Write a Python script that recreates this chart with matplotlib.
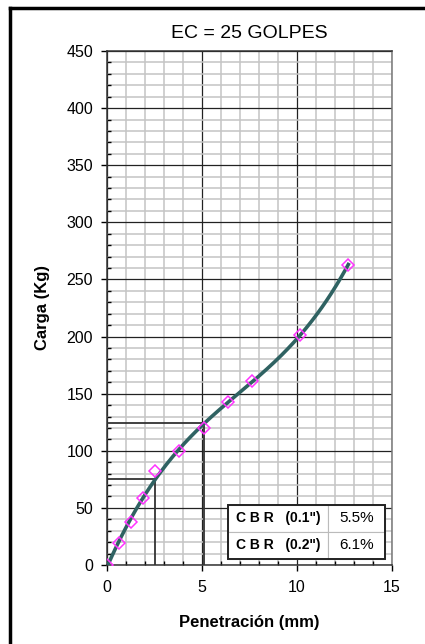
import numpy as np
import matplotlib.pyplot as plt
from matplotlib.lines import Line2D
from matplotlib.patches import Rectangle
from matplotlib.ticker import MultipleLocator

plt.rcParams.update({
    "font.family": ["Liberation Sans", "DejaVu Sans"],
})

# penetration (mm) and load (kg) readings
penetracion = [0.0, 0.64, 1.27, 1.91, 2.54, 3.81, 5.08, 6.35, 7.62, 10.16, 12.70]
carga = [0, 19, 38, 59, 82, 100, 120, 143, 161, 201, 263]

# corrected loads at 0.1" and 0.2"
pen_ref = [2.54, 5.08]
carga_ref = [75, 124]
cbr_labels = ['C B R   (0.1")', 'C B R   (0.2")']
cbr_values = ["5.5%", "6.1%"]

fig = plt.figure(figsize=(4.25, 6.44), dpi=100)
ax = fig.add_axes([107 / 425, 1 - 565 / 644, 285 / 425, 514 / 644])

# sheet border (left and top edges)
fig.add_artist(Line2D([9.5 / 425, 9.5 / 425], [0, 1 - 7.5 / 644],
                      transform=fig.transFigure, color="black", lw=2.5))
fig.add_artist(Line2D([9.5 / 425, 1], [1 - 7.5 / 644, 1 - 7.5 / 644],
                      transform=fig.transFigure, color="black", lw=2.5))

# grid
ax.xaxis.set_major_locator(MultipleLocator(5))
ax.xaxis.set_minor_locator(MultipleLocator(1))
ax.yaxis.set_major_locator(MultipleLocator(50))
ax.yaxis.set_minor_locator(MultipleLocator(10))
ax.grid(which="minor", color="#c4c4c4", lw=1.1)
ax.grid(which="major", color="#222222", lw=0.9)
ax.set_axisbelow(True)

# cubic trend through the readings
coef = np.polyfit(penetracion, carga, 3)
xs = np.linspace(0, max(penetracion), 200)
ax.plot(xs, np.polyval(coef, xs), color="#2f6262", lw=2.6, zorder=3)
ax.plot(penetracion, carga, ls="none", marker="D", ms=6, mfc="none",
        mec="#ff33ff", mew=1.1, zorder=4)

# guide lines at 0.1" and 0.2"
for px, py in zip(pen_ref, carga_ref):
    ax.plot([0, px], [py, py], color="#333333", lw=1.3, zorder=2)
    ax.plot([px, px], [0, py], color="#333333", lw=1.3, zorder=2)

ax.set_xlim(0, 15)
ax.set_ylim(0, 450)
ax.tick_params(which="major", direction="out", length=4, width=1,
               labelsize=11.5, colors="black")
ax.tick_params(which="minor", direction="in", length=3, width=1)
ax.tick_params(axis="x", pad=7)
ax.tick_params(axis="y", pad=6)
for s in ax.spines.values():
    s.set_color("#333333")
    s.set_linewidth(1.1)
ax.spines["right"].set_color("#777777")

ax.set_title("EC = 25 GOLPES", fontsize=14, pad=9)
ax.set_xlabel("Penetración (mm)", fontsize=12, fontweight="bold", labelpad=14)
ax.set_ylabel("Carga (Kg)", fontsize=12, fontweight="bold", labelpad=12)

# CBR summary box
tbl = ax.table(cellText=[[l, v] for l, v in zip(cbr_labels, cbr_values)],
               bbox=[0.425, 0.012, 0.55, 0.105], colWidths=[0.64, 0.36],
               zorder=5)
tbl.auto_set_font_size(False)
for (r, c), cell in tbl.get_celld().items():
    cell.set_edgecolor("#bbbbbb")
    cell.set_facecolor("white")
    cell.set_linewidth(0.8)
    cell.get_text().set_ha("center")
    if c == 0:
        cell.get_text().set_fontsize(10)
        cell.get_text().set_fontweight("bold")
    else:
        cell.get_text().set_fontsize(11)
ax.add_patch(Rectangle((0.425, 0.012), 0.55, 0.105, transform=ax.transAxes,
                       fill=False, ec="#222222", lw=1.4, zorder=6))

fig.savefig("out.png", dpi=100)
